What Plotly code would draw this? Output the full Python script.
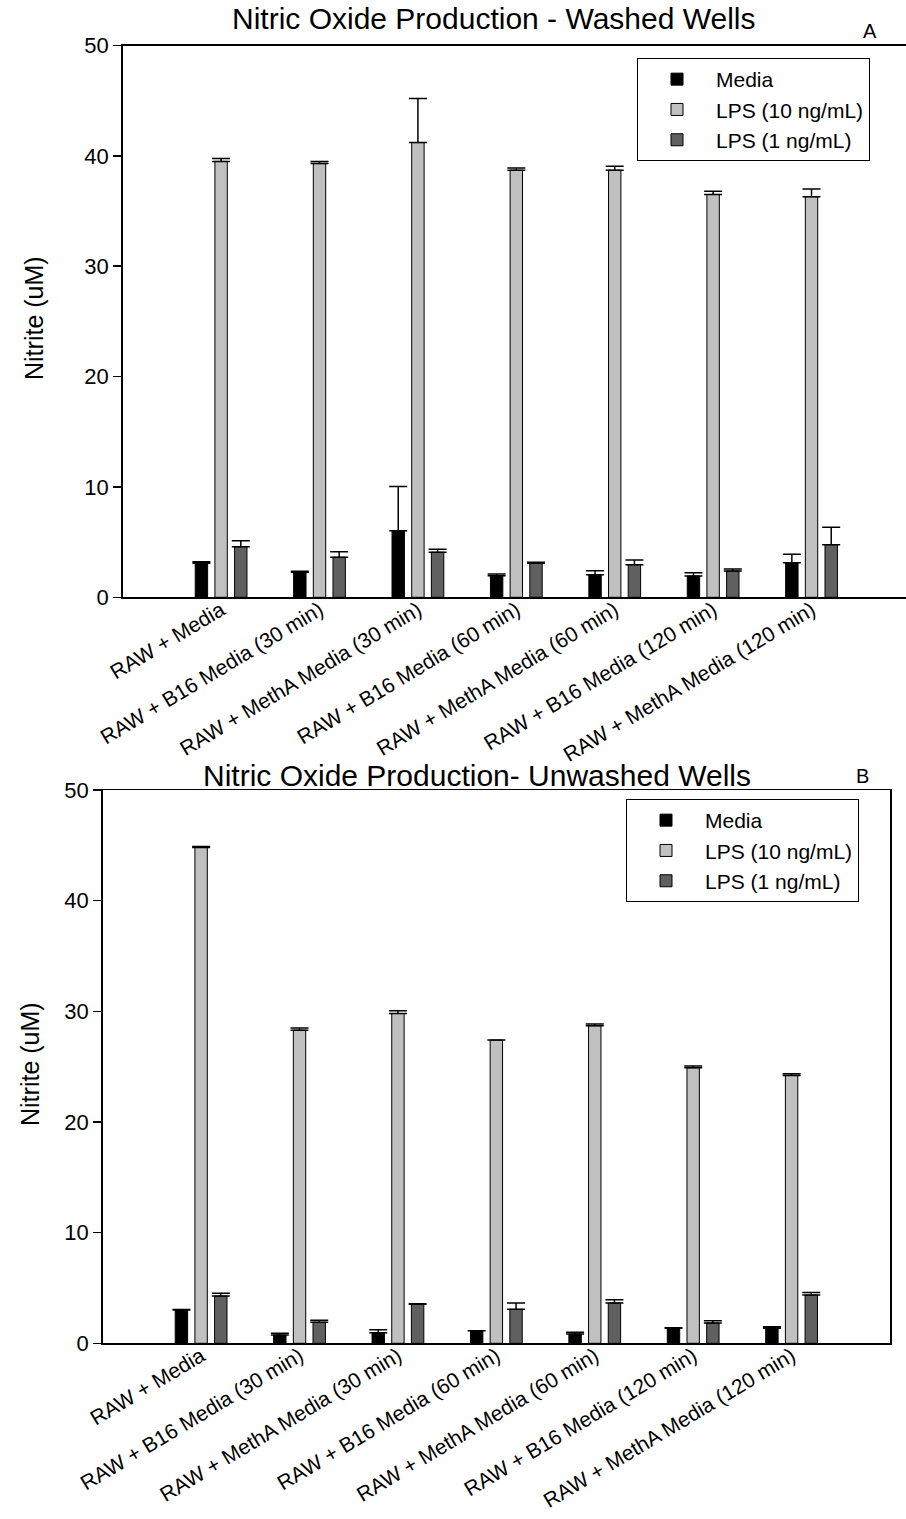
import plotly.graph_objects as go

categories = [
    "RAW + Media",
    "RAW + B16 Media (30 min)",
    "RAW + MethA Media (30 min)",
    "RAW + B16 Media (60 min)",
    "RAW + MethA Media (60 min)",
    "RAW + B16 Media (120 min)",
    "RAW + MethA Media (120 min)",
]
series_names = ["Media", "LPS (10 ng/mL)", "LPS (1 ng/mL)"]
series_colors = ["#000000", "#c0c0c0", "#606060"]

# Panel A - washed wells
washed_media = [3.08, 2.27, 6.04, 1.96, 2.05, 1.93, 3.14]
washed_media_err = [0.15, 0.10, 4.00, 0.15, 0.36, 0.30, 0.76]
washed_lps10 = [39.5, 39.3, 41.2, 38.7, 38.7, 36.5, 36.3]
washed_lps10_err = [0.25, 0.20, 4.00, 0.20, 0.35, 0.30, 0.70]
washed_lps1 = [4.59, 3.63, 4.08, 3.08, 2.96, 2.38, 4.77]
washed_lps1_err = [0.54, 0.50, 0.27, 0.10, 0.42, 0.19, 1.58]

# Panel B - unwashed wells
unwashed_media = [3.01, 0.75, 0.96, 1.14, 0.84, 1.35, 1.35]
unwashed_media_err = [0.05, 0.15, 0.27, 0.0, 0.15, 0.06, 0.15]
unwashed_lps10 = [44.8, 28.3, 29.8, 27.4, 28.7, 24.9, 24.2]
unwashed_lps10_err = [0.10, 0.20, 0.25, 0.0, 0.15, 0.15, 0.15]
unwashed_lps1 = [4.27, 1.90, 3.52, 3.07, 3.64, 1.83, 4.36]
unwashed_lps1_err = [0.25, 0.18, 0.05, 0.57, 0.30, 0.20, 0.24]

y_ticks = [0, 10, 20, 30, 40, 50]

FONT = "Liberation Sans, Arial, Helvetica, sans-serif"
W, H = 906, 1519

fig = go.Figure()

panels = [
    ("x", "y", "legend", [washed_media, washed_lps10, washed_lps1],
     [washed_media_err, washed_lps10_err, washed_lps1_err]),
    ("x2", "y2", "legend2", [unwashed_media, unwashed_lps10, unwashed_lps1],
     [unwashed_media_err, unwashed_lps10_err, unwashed_lps1_err]),
]
for xa, ya, lg, vals, errs in panels:
    for name, color, v, e in zip(series_names, series_colors, vals, errs):
        fig.add_trace(go.Bar(
            x=categories, y=v, name=name, xaxis=xa, yaxis=ya, legend=lg,
            marker=dict(color=color, line=dict(color="#000000", width=1)),
            error_y=dict(type="data", symmetric=False, array=e,
                         arrayminus=[0] * len(e), color="#000000",
                         thickness=1.5, width=9),
        ))

def px2x(px):
    return px / W

def px2y(py):
    return 1 - py / H

axis_common = dict(showline=True, linecolor="#000000", linewidth=1.5,
                   showgrid=False, zeroline=False, automargin=False)

fig.update_layout(
    template="none",
    width=W, height=H,
    margin=dict(l=0, r=0, t=0, b=0, autoexpand=False),
    paper_bgcolor="white", plot_bgcolor="white",
    font=dict(family=FONT, color="#000000", size=20),
    barmode="group", bargap=0.4, bargroupgap=0.37,
    xaxis=dict(domain=[px2x(122.7), 1.0], range=[-1, 6.96], anchor="y",
               mirror=True, ticks="", tickangle=-31, ticklabelstandoff=-9,
               tickfont=dict(size=21, family=FONT), **axis_common),
    yaxis=dict(domain=[px2y(597.3), px2y(45.5)], range=[0, 50], anchor="x",
               tickvals=y_ticks, ticks="outside", ticklen=8, tickwidth=1.5,
               tickcolor="#000000", tickfont=dict(size=22, family=FONT),
               mirror=False, **axis_common),
    xaxis2=dict(domain=[px2x(102.7), px2x(890)], range=[-1, 7], anchor="y2",
                mirror=True, ticks="", tickangle=-31, ticklabelstandoff=-9,
                tickfont=dict(size=21, family=FONT), **axis_common),
    yaxis2=dict(domain=[px2y(1343.3), px2y(790)], range=[0, 50], anchor="x2",
                tickvals=y_ticks, ticks="outside", ticklen=8, tickwidth=1.5,
                tickcolor="#000000", tickfont=dict(size=22, family=FONT),
                mirror=True, **axis_common),
    legend=dict(x=px2x(637), y=px2y(58), xanchor="left", yanchor="top",
                bordercolor="#000000", borderwidth=1, bgcolor="white",
                font=dict(size=21, family=FONT), itemwidth=68,
                tracegroupgap=0),
    legend2=dict(x=px2x(626), y=px2y(799), xanchor="left", yanchor="top",
                 bordercolor="#000000", borderwidth=1, bgcolor="white",
                 font=dict(size=21, family=FONT), itemwidth=68,
                 tracegroupgap=0),
    showlegend=True,
)

annotations = [
    dict(text="Nitric Oxide Production - Washed Wells", x=px2x(494), y=px2y(19),
         font=dict(size=30)),
    dict(text="Nitric Oxide Production- Unwashed Wells", x=px2x(477), y=px2y(775),
         font=dict(size=30)),
    dict(text="A", x=px2x(870), y=px2y(31), font=dict(size=20)),
    dict(text="B", x=px2x(862), y=px2y(776), font=dict(size=20)),
    dict(text="Nitrite (uM)", x=px2x(34), y=px2y(318), textangle=-90,
         font=dict(size=25)),
    dict(text="Nitrite (uM)", x=px2x(30), y=px2y(1064), textangle=-90,
         font=dict(size=25)),
]
for a in annotations:
    a.update(xref="paper", yref="paper", showarrow=False,
             xanchor="center", yanchor="middle")
    a["font"].update(family=FONT, color="#000000")
fig.update_layout(annotations=annotations)

page_fix = ("document.body.style.margin='0px';"
            "document.body.style.overflow='hidden';"
            "document.documentElement.style.overflow='hidden';")
fig.write_html("out.html", post_script=page_fix,
               config={"displayModeBar": False, "staticPlot": True})
